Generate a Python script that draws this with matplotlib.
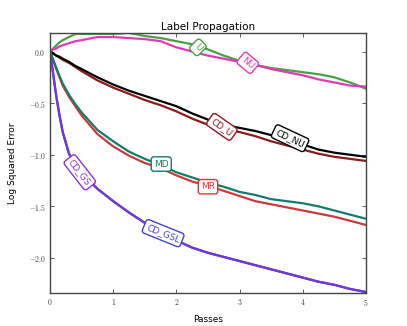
import matplotlib
matplotlib.use("Agg")
import matplotlib.pyplot as plt
from matplotlib.ticker import FuncFormatter

plt.rcParams["mathtext.fontset"] = "cm"

# ── data ──────────────────────────────────────────────────────────────────
passes = [0, 0.05, 0.1, 0.15, 0.2, 0.3, 0.4, 0.5, 0.75, 1.0, 1.25, 1.5, 1.75,
          2.0, 2.25, 2.5, 2.75, 3.0, 3.25, 3.5, 3.75, 4.0, 4.25, 4.5, 4.75, 5.0]

err_u = [0, 0.03, 0.06, 0.09, 0.11, 0.14, 0.17, 0.17, 0.17, 0.17, 0.18, 0.15, 0.13,
         0.10, 0.07, 0.02, -0.04, -0.09, -0.13, -0.16, -0.18, -0.20, -0.22, -0.25, -0.30, -0.36]
err_nu = [0, 0.02, 0.03, 0.05, 0.06, 0.08, 0.10, 0.11, 0.14, 0.14, 0.13, 0.12, 0.10,
          0.04, 0.00, -0.04, -0.07, -0.10, -0.13, -0.17, -0.20, -0.23, -0.27, -0.30, -0.33, -0.34]
err_cd_nu = [0, -0.02, -0.04, -0.05, -0.07, -0.10, -0.14, -0.17, -0.25, -0.32, -0.38, -0.43, -0.48,
             -0.53, -0.60, -0.66, -0.71, -0.74, -0.77, -0.81, -0.85, -0.90, -0.95, -0.98, -1.00, -1.02]
err_cd_u = [0, -0.02, -0.04, -0.06, -0.08, -0.11, -0.15, -0.19, -0.28, -0.35, -0.41, -0.47, -0.52,
            -0.58, -0.65, -0.71, -0.75, -0.78, -0.82, -0.87, -0.91, -0.95, -0.99, -1.02, -1.04, -1.06]
err_md = [0, -0.08, -0.16, -0.24, -0.31, -0.42, -0.51, -0.59, -0.76, -0.87, -0.97, -1.04, -1.10,
          -1.17, -1.22, -1.27, -1.31, -1.36, -1.39, -1.43, -1.45, -1.47, -1.50, -1.54, -1.58, -1.62]
err_mr = [0, -0.09, -0.17, -0.25, -0.33, -0.44, -0.53, -0.62, -0.80, -0.92, -1.01, -1.08, -1.13,
          -1.20, -1.26, -1.30, -1.35, -1.40, -1.45, -1.48, -1.51, -1.54, -1.57, -1.60, -1.64, -1.68]
err_cd_gs = [0, -0.22, -0.44, -0.62, -0.78, -0.99, -1.10, -1.18, -1.33, -1.45, -1.56, -1.66, -1.75,
             -1.83, -1.90, -1.95, -1.99, -2.03, -2.07, -2.11, -2.15, -2.19, -2.23, -2.26, -2.30, -2.33]

# ── series styling + label placement ──────────────────────────────────────
SERIES = [
    # name,    values,    color,     label (x, y, rotation), label colour
    ("U",      err_u,     "#4c9e47", (2.34, 0.04, -45),  "#4c9e47"),
    ("NU",     err_nu,    "#dd3cb5", (3.13, -0.11, -40), "#dd3cb5"),
    ("CD_U",   err_cd_u,  "#8b1c1c", (2.72, -0.73, -35), "#8b1c1c"),
    ("CD_NU",  err_cd_nu, "#000000", (3.80, -0.84, -25), "#000000"),
    ("MR",     err_mr,    "#cc3b3b", (2.50, -1.31, 0),   "#cc3b3b"),
    ("MD",     err_md,    "#177a68", (1.76, -1.09, 0),   "#177a68"),
    ("CD_GSL", err_cd_gs, "#4646d0", (1.79, -1.76, -22), "#4646d0"),
    ("CD_GS",  err_cd_gs, "#7536d8", (0.47, -1.17, -52), "#8a35d8"),
]

fig = plt.figure(figsize=(4.07, 3.26), dpi=100)
ax = fig.add_axes([0.123, 0.101, 0.776, 0.798])

for name, vals, color, _, _ in SERIES:
    ax.plot(passes, vals, color=color, linewidth=1.6, zorder=2)

for name, vals, color, (lx, ly, rot), tcol in SERIES:
    ax.text(lx, ly, name, color=tcol, fontsize=6.5, rotation=rot,
            ha="center", va="center", zorder=5,
            bbox=dict(boxstyle="round,pad=0.3", fc="white", ec=tcol, lw=1.0))

ax.set_xlim(0, 5)
ax.set_ylim(-2.34, 0.18)
ax.set_xticks(range(6))
ax.set_yticks([0.0, -0.5, -1.0, -1.5, -2.0])

ax.xaxis.set_major_formatter(FuncFormatter(lambda v, p: f"${v:.0f}$"))
ax.yaxis.set_major_formatter(FuncFormatter(lambda v, p: f"${v:.1f}$"))

ax.tick_params(direction="in", top=True, right=True, labelsize=5.5,
               colors="#444444", length=3, width=0.6, pad=3)
for sp in ax.spines.values():
    sp.set_color("#444444")
    sp.set_linewidth(1.0)

ax.set_title("Label Propagation", fontsize=7.5, pad=2)
ax.set_xlabel("Passes", fontsize=6.5, labelpad=5)
ax.set_ylabel("Log Squared Error", fontsize=6.5, labelpad=8)

fig.savefig("out.png", dpi=100)
